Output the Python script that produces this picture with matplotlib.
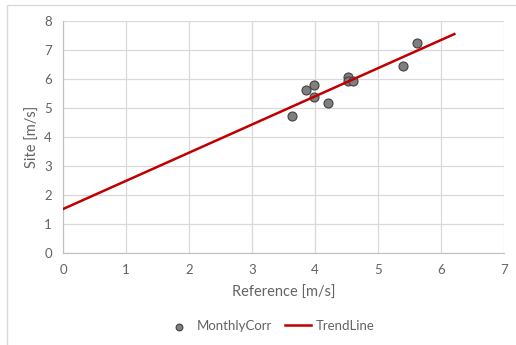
import numpy as np
import matplotlib
matplotlib.use("Agg")
import matplotlib.pyplot as plt
from matplotlib.patches import Rectangle

# monthly correlation points (reference vs site wind speed)
ref_speed = [3.63, 3.86, 3.99, 3.99, 4.21, 4.52, 4.52, 4.60, 5.40, 5.62]
site_speed = [4.70, 5.60, 5.80, 5.37, 5.18, 6.05, 5.92, 5.91, 6.45, 7.22]

# trend line endpoints
trend_x = [0.0, 6.21]
trend_y = [1.51, 7.54]

plt.rcParams['font.family'] = ['Lato', 'DejaVu Sans']
grey_txt = '#636363'

fig = plt.figure(figsize=(5.16, 3.45), dpi=100)
ax = fig.add_axes([0.122, 0.267, 0.855, 0.673])

# outer chart border (only top/left visible)
fig.patches.append(Rectangle((7 / 516, -0.1), 1.2, 1 - 5 / 345 + 0.1,
                             transform=fig.transFigure, fill=False,
                             edgecolor='#d9d9d9', linewidth=1))

ax.scatter(ref_speed, site_speed, s=42, color='#7f7f7f', edgecolor='#404040',
           linewidth=0.8, zorder=3, label='MonthlyCorr')
ax.plot(trend_x, trend_y, color='#c00000', linewidth=1.8, zorder=4, label='TrendLine')

ax.set_xlim(0, 7)
ax.set_ylim(0, 8)
ax.set_xticks(np.arange(0, 8, 1))
ax.set_yticks(np.arange(0, 9, 1))
ax.grid(True, color='#d9d9d9', linewidth=0.9)
ax.set_axisbelow(True)
for s in ['top', 'right']:
    ax.spines[s].set_visible(False)
for s in ['left', 'bottom']:
    ax.spines[s].set_color('#bfbfbf')
ax.tick_params(length=0, colors=grey_txt, labelsize=9.5, pad=8)

ax.set_xlabel('Reference [m/s]', color=grey_txt, fontsize=10.5, labelpad=7)
ax.set_ylabel('Site [m/s]', color=grey_txt, fontsize=10.5, labelpad=3)

leg = ax.legend(loc='center', bbox_to_anchor=(0.47, -0.315), ncol=2, frameon=False,
                fontsize=9.5, handlelength=2.0, columnspacing=1.0, handletextpad=0.35,
                markerscale=0.75)
for t in leg.get_texts():
    t.set_color(grey_txt)

fig.savefig('out.png', dpi=100)
